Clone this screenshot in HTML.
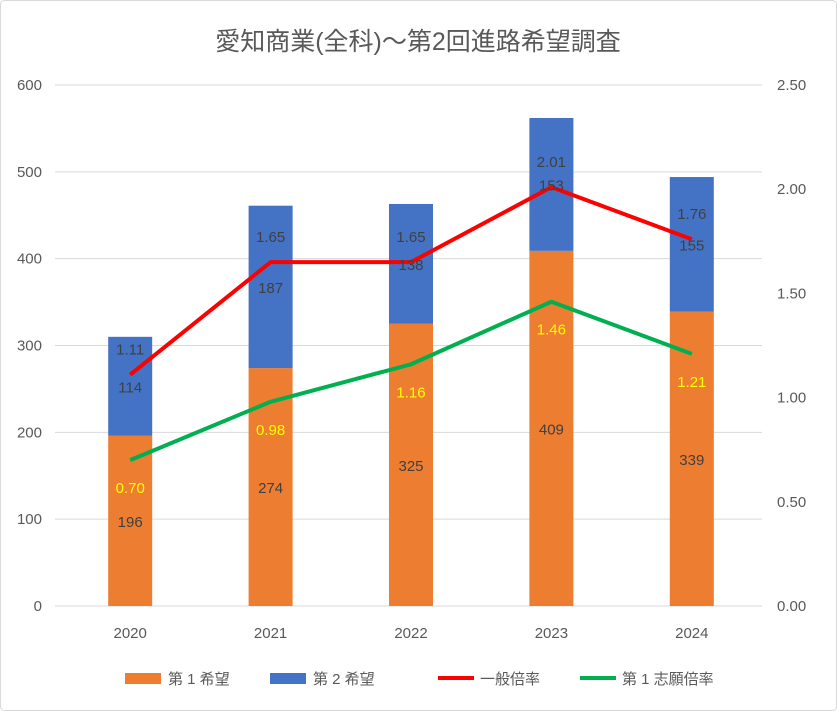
<!DOCTYPE html>
<html><head><meta charset="utf-8"><style>
html,body{margin:0;padding:0;background:#fff}
svg{display:block;font-family:"Liberation Sans","Noto Sans CJK JP",sans-serif}
</style></head><body>
<svg id="chart" width="837" height="711">
<rect x="0.5" y="0.5" width="836" height="710" rx="4" fill="#fff" stroke="#d9d9d9"/>
<text x="418" y="50" text-anchor="middle" font-size="25" fill="#595959">愛知商業(全科)～第2回進路希望調査</text>
<g id="grid"></g><g id="bars"></g><g id="lines"></g><g id="labels"></g>
<g id="legend">
<rect x="125" y="673" width="36" height="11" fill="#ED7D31"/>
<text x="168" y="684" font-size="15" fill="#595959">第 1 希望</text>
<rect x="270" y="673" width="36" height="11" fill="#4472C4"/>
<text x="313" y="684" font-size="15" fill="#595959">第 2 希望</text>
<line x1="438" y1="678" x2="474" y2="678" stroke="#FF0000" stroke-width="4"/>
<text x="480" y="684" font-size="15" fill="#595959">一般倍率</text>
<line x1="580" y1="678" x2="616" y2="678" stroke="#00B050" stroke-width="4"/>
<text x="622" y="684" font-size="15" fill="#595959">第 1 志願倍率</text>
</g>
</svg>
<script>
const categories=["2020","2021","2022","2023","2024"];
const choice1=[196,274,325,409,339];
const choice2=[114,187,138,153,155];
const generalRatio=[1.11,1.65,1.65,2.01,1.76];
const firstRatio=[0.70,0.98,1.16,1.46,1.21];
const leftTicks=[0,100,200,300,400,500,600];
const rightTicks=["0.00","0.50","1.00","1.50","2.00","2.50"];
const NS="http://www.w3.org/2000/svg";
const X0=60,X1=762,Y0=606,Y1=85;
const yL=v=>Y0-(v/600)*(Y0-Y1);
const yR=v=>Y0-(v/2.5)*(Y0-Y1);
const step=(X1-X0)/categories.length;
const xC=i=>X0+step*(i+0.5);
const bw=44;
function mk(tag,attrs,parent,txt){const e=document.createElementNS(NS,tag);for(const k in attrs)e.setAttribute(k,attrs[k]);if(txt!==undefined)e.textContent=txt;document.getElementById(parent).appendChild(e);return e;}
leftTicks.forEach(t=>{
 const g=mk('line',{x1:55,x2:X1,y1:yL(t),y2:yL(t),stroke:'#d9d9d9'},'grid');
 
 
 const l=mk('text',{x:42,y:yL(t)+5,'text-anchor':'end','font-size':15,fill:'#595959'},'grid',t);
 
 
});
rightTicks.forEach(t=>{
 const l=mk('text',{x:777,y:yR(parseFloat(t))+5,'font-size':15,fill:'#595959'},'grid',t);
 
 
});
categories.forEach((c,i)=>{
 const l=mk('text',{x:xC(i),y:638,'text-anchor':'middle','font-size':15,fill:'#595959'},'grid',c);
 
 
 const b1=mk('rect',{x:xC(i)-bw/2,y:yL(choice1[i]),width:bw,height:Y0-yL(choice1[i]),fill:'#ED7D31'},'bars');
 
 
 const top=choice1[i]+choice2[i];
 const b2=mk('rect',{x:xC(i)-bw/2,y:yL(top),width:bw,height:yL(choice1[i])-yL(top),fill:'#4472C4'},'bars');
 
 
 const t1=mk('text',{x:xC(i),y:yL(choice1[i]/2)+6,'text-anchor':'middle','font-size':15,fill:'#404040'},'labels',choice1[i]);
 
 
 const t2=mk('text',{x:xC(i),y:yL(choice1[i]+choice2[i]/2)+6,'text-anchor':'middle','font-size':15,fill:'#404040'},'labels',choice2[i]);
 
 
 const t3=mk('text',{x:xC(i),y:yR(generalRatio[i])-20,'text-anchor':'middle','font-size':15,fill:'#404040'},'labels',generalRatio[i].toFixed(2));
 
 
 const t4=mk('text',{x:xC(i),y:yR(firstRatio[i])+33,'text-anchor':'middle','font-size':15,fill:'#FFFF00'},'labels',firstRatio[i].toFixed(2));
 
 
});
const p1=mk('polyline',{points:generalRatio.map((v,i)=>xC(i)+','+yR(v)).join(' '),fill:'none',stroke:'#FF0000','stroke-width':4,'stroke-linejoin':'round'},'lines');


const p2=mk('polyline',{points:firstRatio.map((v,i)=>xC(i)+','+yR(v)).join(' '),fill:'none',stroke:'#00B050','stroke-width':4,'stroke-linejoin':'round'},'lines');


</script>
</body></html>
